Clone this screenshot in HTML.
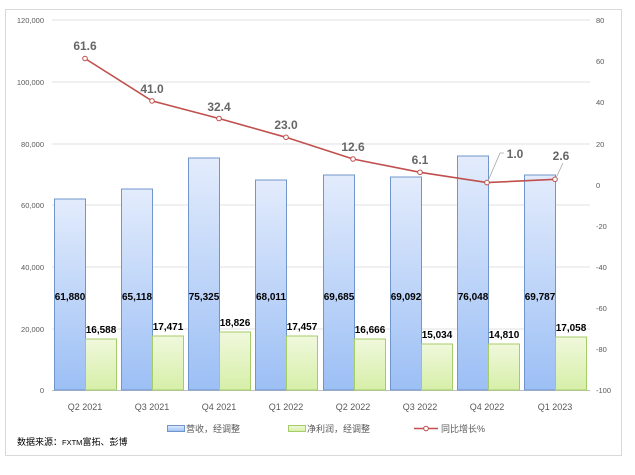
<!DOCTYPE html>
<html><head><meta charset="utf-8"><style>body{margin:0;background:#fff}svg{display:block}</style></head><body>
<svg width="635" height="475" xmlns="http://www.w3.org/2000/svg" font-family="Liberation Sans, Noto Sans CJK SC, sans-serif">
<defs>
<linearGradient id="b" x1="0" y1="0" x2="0" y2="1"><stop offset="0" stop-color="#e3ecfc"/><stop offset="1" stop-color="#9cbff5"/></linearGradient>
<linearGradient id="g" x1="0" y1="0" x2="0" y2="1"><stop offset="0" stop-color="#f0f8dc"/><stop offset="1" stop-color="#d6efa8"/></linearGradient>
</defs>
<rect x="5.5" y="9.5" width="616" height="446" fill="#fff" stroke="#d9d9d9"/>
<g stroke="#e0e0e0" stroke-width="1">
<line x1="52" x2="590" y1="20" y2="20"/><line x1="52" x2="590" y1="82" y2="82"/><line x1="52" x2="590" y1="144" y2="144"/><line x1="52" x2="590" y1="205" y2="205"/><line x1="52" x2="590" y1="267" y2="267"/><line x1="52" x2="590" y1="329" y2="329"/>
</g>
<line x1="52" x2="590" y1="390.5" y2="390.5" stroke="#bfbfbf"/>
<g font-size="7.5" fill="#595959" text-anchor="end">
<text x="44" y="23">120,000</text><text x="44" y="85">100,000</text><text x="44" y="147">80,000</text><text x="44" y="208">60,000</text><text x="44" y="270">40,000</text><text x="44" y="332">20,000</text><text x="44" y="393">0</text>
</g>
<g font-size="7.5" fill="#595959" text-anchor="start">
<text x="596" y="23">80</text><text x="596" y="64">60</text><text x="596" y="105">40</text><text x="596" y="147">20</text><text x="596" y="188">0</text><text x="596" y="229">-20</text><text x="596" y="270">-40</text><text x="596" y="311">-60</text><text x="596" y="352">-80</text><text x="596" y="393">-100</text>
</g>
<g stroke="#7096cc" stroke-width="1" fill="url(#b)">
<rect x="54.5" y="199" width="31" height="191"/>
<rect x="121.5" y="189" width="31" height="201"/>
<rect x="188.5" y="158" width="31" height="232"/>
<rect x="255.5" y="180" width="31" height="210"/>
<rect x="323.5" y="175" width="31" height="215"/>
<rect x="390.5" y="177" width="31" height="213"/>
<rect x="457.5" y="156" width="31" height="234"/>
<rect x="524.5" y="175" width="31" height="215"/>
</g>
<g stroke="#a6cc6a" stroke-width="1" fill="url(#g)">
<rect x="85.5" y="339" width="31" height="51"/>
<rect x="152.5" y="336" width="31" height="54"/>
<rect x="219.5" y="332" width="31" height="58"/>
<rect x="286.5" y="336" width="31" height="54"/>
<rect x="354.5" y="339" width="31" height="51"/>
<rect x="421.5" y="344" width="31" height="46"/>
<rect x="488.5" y="344" width="31" height="46"/>
<rect x="555.5" y="337" width="31" height="53"/>
</g>
<g font-size="10" font-weight="bold" fill="#000" text-anchor="middle">
<text x="70" y="300">61,880</text><text x="137" y="300">65,118</text><text x="204" y="300">75,325</text><text x="271" y="300">68,011</text><text x="339" y="300">69,685</text><text x="406" y="300">69,092</text><text x="473" y="300">76,048</text><text x="540" y="300">69,787</text>
<text x="101" y="333">16,588</text><text x="168" y="330">17,471</text><text x="235" y="326">18,826</text><text x="302" y="330">17,457</text><text x="370" y="333">16,666</text><text x="437" y="338">15,034</text><text x="504" y="338">14,810</text><text x="571" y="331">17,058</text>
</g>
<polyline fill="none" stroke="#c0504d" stroke-width="1.6" points="85,58.5 152,100.9 219,118.5 286,137.3 353,159 420,172.3 487,182.6 555,179.3"/>
<g fill="#fff" stroke="#c0504d" stroke-width="1">
<circle cx="85" cy="58.5" r="2.3"/><circle cx="152" cy="100.9" r="2.3"/><circle cx="219" cy="118.5" r="2.3"/><circle cx="286" cy="137.3" r="2.3"/><circle cx="353" cy="159" r="2.3"/><circle cx="420" cy="172.3" r="2.3"/><circle cx="487" cy="182.6" r="2.3"/><circle cx="555" cy="179.3" r="2.3"/>
</g>
<polyline fill="none" stroke="#a6a6a6" stroke-width="0.8" points="488,181 500,153 504,153"/>
<line x1="556" y1="178" x2="563" y2="163" stroke="#a6a6a6" stroke-width="0.8"/>
<g font-size="12" font-weight="bold" fill="#666" text-anchor="middle">
<text x="85" y="50">61.6</text><text x="152" y="93">41.0</text><text x="219" y="111">32.4</text><text x="286" y="129">23.0</text><text x="353" y="151">12.6</text><text x="420" y="164">6.1</text><text x="515" y="158">1.0</text><text x="561" y="160">2.6</text>
</g>
<g font-size="9" fill="#595959" text-anchor="middle">
<text x="85" y="410">Q2 2021</text><text x="152" y="410">Q3 2021</text><text x="219" y="410">Q4 2021</text><text x="286" y="410">Q1 2022</text><text x="353" y="410">Q2 2022</text><text x="420" y="410">Q3 2022</text><text x="487" y="410">Q4 2022</text><text x="555" y="410">Q1 2023</text>
</g>
<rect x="167.5" y="425.5" width="17" height="6" fill="url(#b)" stroke="#7096cc"/>
<text x="186" y="432" font-size="9" fill="#595959">营收，经调整</text>
<rect x="288.5" y="425.5" width="17" height="6" fill="url(#g)" stroke="#a6cc6a"/>
<text x="307" y="432" font-size="9" fill="#595959">净利润，经调整</text>
<line x1="414" x2="438" y1="428.5" y2="428.5" stroke="#c0504d" stroke-width="1.6"/>
<circle cx="426" cy="428.5" r="2.3" fill="#fff" stroke="#c0504d"/>
<text x="441" y="432" font-size="9" fill="#595959">同比增长%</text>
<text x="17" y="445" font-size="9" fill="#000">数据来源：<tspan font-size="7.5">FXTM</tspan>富拓、彭博</text>
</svg>
</body></html>
